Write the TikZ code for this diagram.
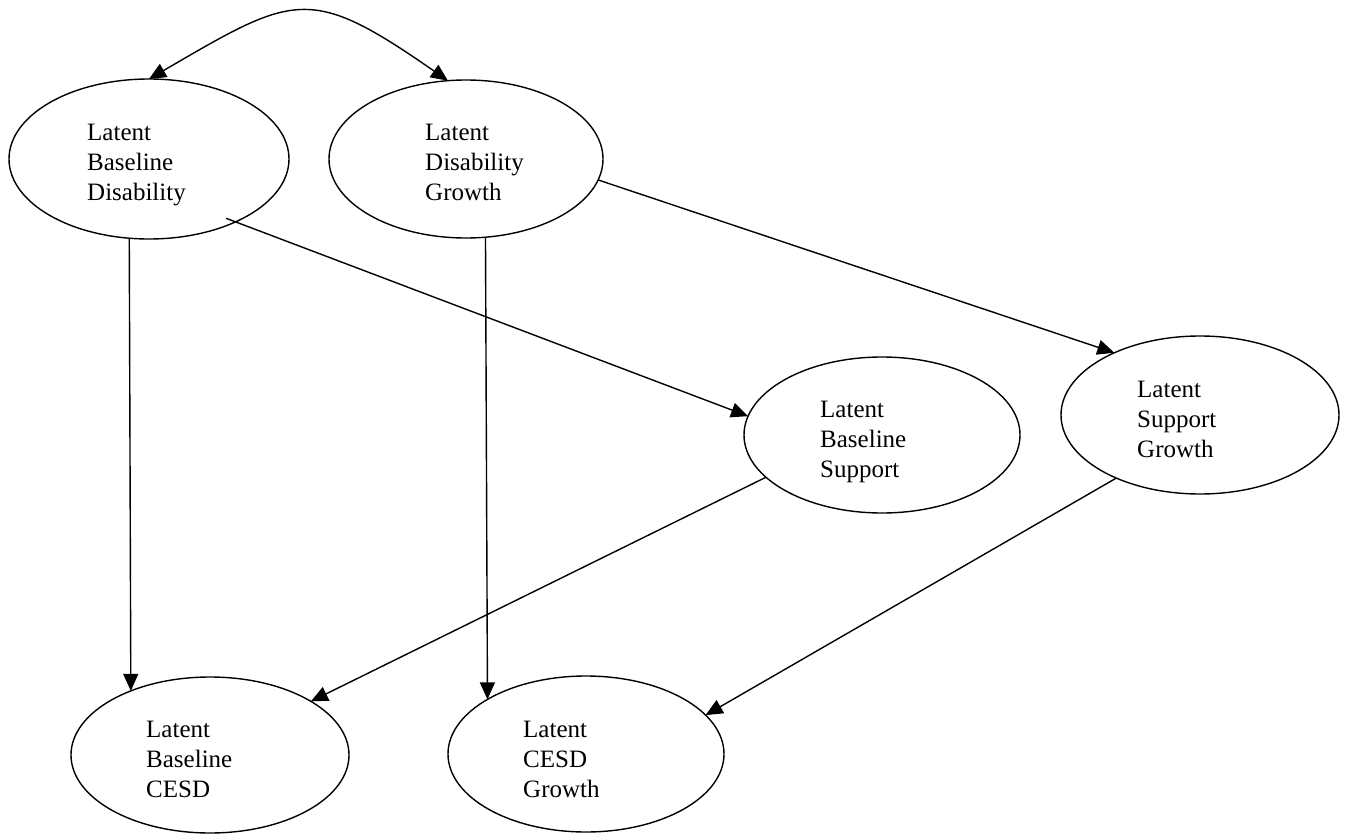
\documentclass[tikz,border=0pt]{standalone}
\usepackage{fontspec}
\setmainfont{Liberation Serif}
\usetikzlibrary{arrows.meta,shapes.geometric}
\newcommand\threelines[3]{\vtop{\hbox{#1}\hbox{#2}\hbox{#3}}}
\begin{document}
\begin{tikzpicture}[x=1pt,y=-1pt,
  latent/.style={ellipse, draw, line width=1.4pt, inner sep=0pt, outer sep=0pt},
  lbl/.style={anchor=base west, inner sep=0pt, font=\fontsize{25}{30}\selectfont},
  arr/.style={line width=1.4pt, -{Triangle[length=17pt,width=15pt]}},
  dbl/.style={line width=1.4pt, {Triangle[length=17pt,width=15pt]}-{Triangle[length=17pt,width=15pt]}}]
\useasboundingbox (0,0) rectangle (1345,835);
\fill[white] (0,0) rectangle (1345,835);

% latent variables
\node[latent, minimum width=280pt, minimum height=160pt] (e1) at (149,159) {};
\node[latent, minimum width=274pt, minimum height=158pt] (e2) at (466,159) {};
\node[latent, minimum width=276pt, minimum height=156pt] (e3) at (882,435) {};
\node[latent, minimum width=278pt, minimum height=158pt] (e4) at (1200,415) {};
\node[latent, minimum width=278pt, minimum height=156pt] (e5) at (210,755) {};
\node[latent, minimum width=276pt, minimum height=156pt] (e6) at (586,754) {};

% labels
\node[lbl] (t1) at (87,140) {\threelines{Latent}{Baseline}{Disability}};
\node[lbl] (t2) at (425,140) {\threelines{Latent}{Disability}{Growth}};
\node[lbl] (t3) at (820,417) {\threelines{Latent}{Baseline}{Support}};
\node[lbl] (t4) at (1137,397) {\threelines{Latent}{Support}{Growth}};
\node[lbl] (t5) at (146,737) {\threelines{Latent}{Baseline}{CESD}};
\node[lbl] (t6) at (523,737) {\threelines{Latent}{CESD}{Growth}};

% correlation
\draw[dbl] (e1.90) .. controls (295,-6) and (309,-16) .. (e2.103.7);

% paths
\draw[arr] (e1.256.5) -- (e5.141.4);
\draw[arr, shorten <=-10pt] (e1.324.4) -- (e3.172.4);
\draw[arr] (e2.284.3) -- (e6.151.7);
\draw[arr] (e2.351.9) -- (e4.144);
\draw[arr] (e3.200) -- (e5.28.5);
\draw[arr] (e4.217.2) -- (e6.18);
\end{tikzpicture}
\end{document}
